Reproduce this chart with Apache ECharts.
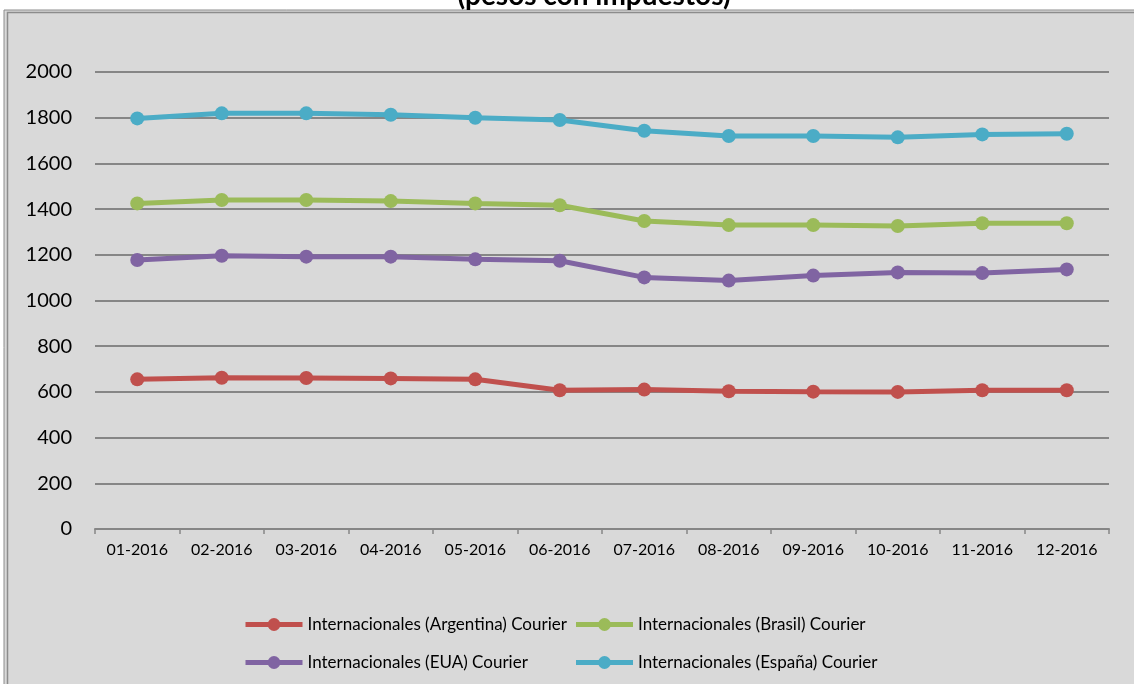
<!DOCTYPE html>
<html>
<head>
<meta charset="utf-8">
<script src="https://cdn.jsdelivr.net/npm/echarts@6/dist/echarts.min.js"></script>
<style>html,body{margin:0;padding:0;background:#fff;}#c{width:1134px;height:684px;}</style>
</head>
<body>
<div id="c"></div>
<script>
const categories = ['01-2016','02-2016','03-2016','04-2016','05-2016','06-2016','07-2016','08-2016','09-2016','10-2016','11-2016','12-2016'];
const seriesNames = ['Internacionales (Argentina) Courier','Internacionales (Brasil) Courier','Internacionales (EUA) Courier','Internacionales (España) Courier'];
const argentina = [655, 662, 661, 659, 655, 607, 610, 603, 601, 600, 607, 607];
const brasil = [1425, 1440, 1440, 1435, 1425, 1417, 1348, 1330, 1330, 1326, 1338, 1338];
const eua = [1177, 1196, 1192, 1192, 1180, 1174, 1101, 1087, 1109, 1123, 1120, 1136];
const espana = [1797, 1819, 1819, 1813, 1800, 1790, 1743, 1720, 1720, 1714, 1727, 1730];
const yTicks = { min: 0, max: 2000, interval: 200 };
const titleText = '(pesos con impuestos)';

const colors = ['#C0504D', '#9BBB59', '#8064A2', '#4BACC6'];
const dataSets = [argentina, brasil, eua, espana];

const chart = echarts.init(document.getElementById('c'));
chart.setOption({
  animation: false,
  backgroundColor: '#ffffff',
  textStyle: { fontFamily: 'Lato' },
  graphic: [
    { type: 'rect', z: -10, shape: { x: 4, y: 10, width: 1200, height: 800 },
      style: { fill: '#d9d9d9', stroke: '#8c8c8c', lineWidth: 1 } },
    { type: 'rect', z: -9, shape: { x: 7.5, y: 12.5, width: 1200, height: 800 },
      style: { fill: 'none', stroke: '#8c8c8c', lineWidth: 1.5 } },
    { type: 'text', z: 10, x: 594, y: -4,
      style: { text: titleText, font: 'bold 28px Lato', fill: '#000', align: 'center', verticalAlign: 'middle' } }
  ],
  grid: { left: 95, right: 25, top: 72, bottom: 155 },
  xAxis: {
    type: 'category',
    data: categories,
    boundaryGap: true,
    axisLine: { lineStyle: { color: '#868686', width: 2 } },
    axisTick: { show: true, length: 5, lineStyle: { color: '#868686', width: 1.5 } },
    axisLabel: { color: '#000', fontSize: 16, margin: 13, fontFamily: 'Lato' }
  },
  yAxis: {
    type: 'value',
    min: yTicks.min, max: yTicks.max, interval: yTicks.interval,
    axisLine: { show: false },
    axisTick: { show: false },
    axisLabel: { color: '#000', fontSize: 20, margin: 23, fontFamily: 'Lato', formatter: v => String(v) },
    splitLine: { lineStyle: { color: '#868686', width: 2 } }
  },
  legend: {
    left: 243, top: 608, width: 680, padding: 0,
    orient: 'horizontal',
    itemWidth: 57, itemHeight: 16, itemGap: 5,
    data: seriesNames,
    lineStyle: { width: 5 },
    textStyle: { color: '#000', fontSize: 17, fontFamily: 'Lato', width: 261, lineHeight: 33, padding: [0,0,0,0] }
  },
  series: seriesNames.map((n, i) => ({
    name: n,
    type: 'line',
    data: dataSets[i],
    symbol: 'circle',
    symbolSize: 14,
    color: colors[i],
    lineStyle: { width: 5, color: colors[i] },
    itemStyle: { color: colors[i] },
    emphasis: { disabled: true }
  }))
});
</script>
</body>
</html>
